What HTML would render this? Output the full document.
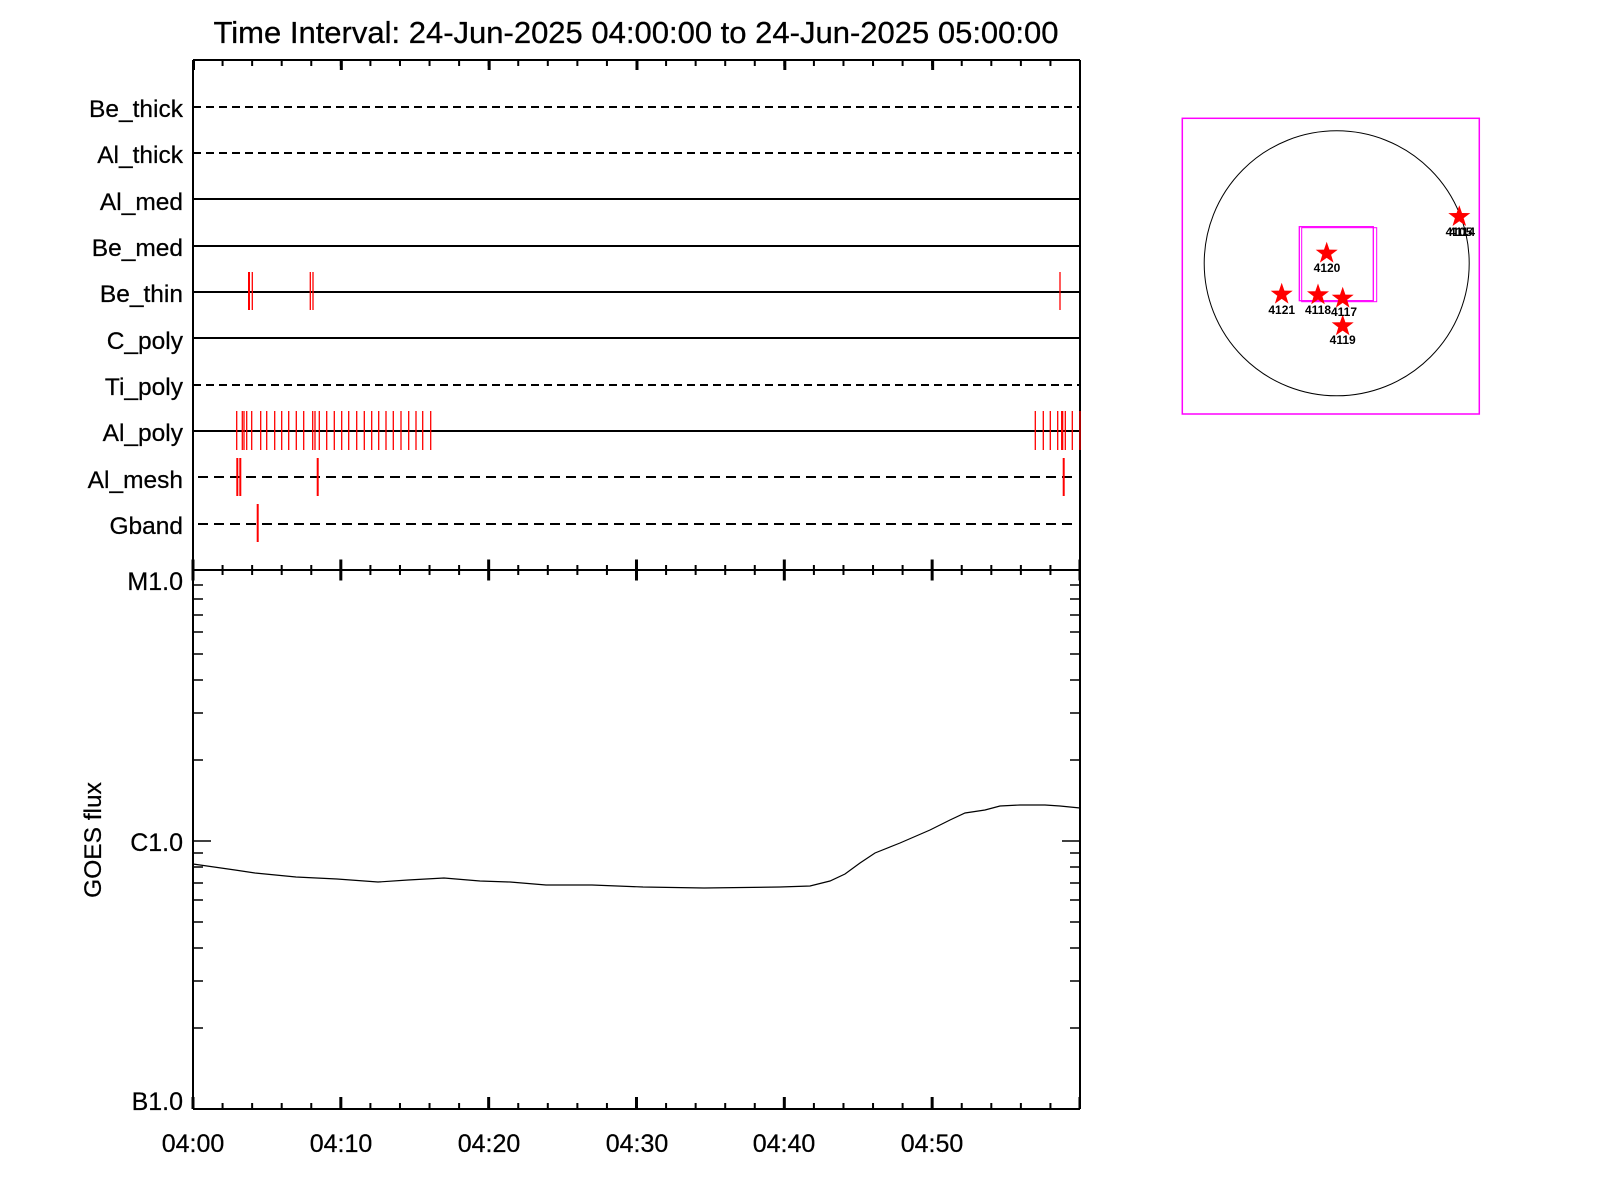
<!DOCTYPE html>
<html><head><meta charset="utf-8"><style>html,body{margin:0;padding:0;background:#fff}svg{display:block}</style></head>
<body>
<svg width="1600" height="1200" viewBox="0 0 1600 1200" xmlns="http://www.w3.org/2000/svg" font-family="Liberation Sans, Arial, sans-serif">
<rect width="1600" height="1200" fill="#fff"/>
<text x="636" y="43" font-size="31" text-anchor="middle" stroke="#000" stroke-width="0.3">Time Interval: 24-Jun-2025 04:00:00 to 24-Jun-2025 05:00:00</text>

<g stroke="#000" stroke-width="2" fill="none">
<line x1="193" y1="60" x2="1080" y2="60"/>
<line x1="193" y1="60" x2="193" y2="1109"/>
<line x1="1080" y1="60" x2="1080" y2="1109"/>
<line x1="193" y1="570" x2="1080" y2="570"/>
<line x1="193" y1="1109" x2="1080" y2="1109"/>
</g>
<g stroke="#000" fill="none">
<line x1="192" y1="63" x2="1081" y2="63" stroke-width="6" stroke-dasharray="2 27.567"/>
<line x1="192" y1="65" x2="1081" y2="65" stroke-width="10" stroke-dasharray="3 144.83"/>
<line x1="192" y1="570" x2="1081" y2="570" stroke-width="10" stroke-dasharray="2 27.567"/>
<line x1="191.5" y1="570" x2="1081" y2="570" stroke-width="21" stroke-dasharray="3 144.83"/>
<line x1="192" y1="1106" x2="1081" y2="1106" stroke-width="6" stroke-dasharray="2 27.567"/>
<line x1="191.5" y1="1103" x2="1081" y2="1103" stroke-width="12" stroke-dasharray="3 144.83"/>
</g>

<g font-size="24.5" text-anchor="end" stroke="#000" stroke-width="0.25">
<text x="183" y="117">Be_thick</text>
<text x="183" y="163">Al_thick</text>
<text x="183" y="210">Al_med</text>
<text x="183" y="256">Be_med</text>
<text x="183" y="302">Be_thin</text>
<text x="183" y="349">C_poly</text>
<text x="183" y="395">Ti_poly</text>
<text x="183" y="441">Al_poly</text>
<text x="183" y="488">Al_mesh</text>
<text x="183" y="534">Gband</text>
</g>
<g stroke="#000" stroke-width="2" fill="none">
<line x1="193" y1="107" x2="1080" y2="107" stroke-dasharray="8 5"/>
<line x1="193" y1="153" x2="1080" y2="153" stroke-dasharray="8 5"/>
<line x1="193" y1="199" x2="1080" y2="199"/>
<line x1="193" y1="246" x2="1080" y2="246"/>
<line x1="193" y1="292" x2="1080" y2="292"/>
<line x1="193" y1="338" x2="1080" y2="338"/>
<line x1="193" y1="385" x2="1080" y2="385" stroke-dasharray="8 5"/>
<line x1="193" y1="431" x2="1080" y2="431"/>
<line x1="198" y1="477" x2="1076" y2="477" stroke-dasharray="10 6"/>
<line x1="198" y1="524" x2="1076" y2="524" stroke-dasharray="10 6"/>
</g>
<g stroke="#f00" fill="none">
<g stroke-width="2"><line x1="249" y1="272" x2="249" y2="310"/></g>
<g stroke-width="1.3">
<line x1="252.3" y1="272" x2="252.3" y2="310"/>
<line x1="310.3" y1="272" x2="310.3" y2="310"/>
<line x1="313" y1="272" x2="313" y2="310"/>
<line x1="1060" y1="272" x2="1060" y2="310"/>
</g>
<g stroke-width="1.3">
<path d="M236.7 411V450M242.3 411V450M244 411V450M246.7 411V450M251.7 411V450M260.7 411V450M266.7 411V450M274.7 411V450M281.7 411V450M288.7 411V450M296.3 411V450M303.7 411V450M312.7 411V450M315 411V450M319.3 411V450M326.7 411V450M334.3 411V450M341.7 411V450M348.7 411V450M356.7 411V450M364.3 411V450M371.7 411V450M378.7 411V450M386 411V450M393.3 411V450M401 411V450M408.7 411V450M416 411V450M422.7 411V450M430.7 411V450"/>
<path d="M1035.3 411V450M1043.3 411V450M1050.3 411V450M1057.7 411V450M1061.7 411V450M1062.7 411V450M1065.3 411V450M1072.3 411V450M1080 411V450"/>
</g>
<g stroke-width="2">
<path d="M237.3 458V496M240.3 458V496M317.7 458V496M1063.7 458V496M257.7 504V542"/>
</g>
</g>

<g stroke="#000" stroke-width="1.5">
<path d="M193 841H211M1080 841H1062"/>
<path d="M193 1028H203M193 981H203M193 948H203M193 922H203M193 900H203M193 883H203M193 867H203M193 853H203
M193 760H203M193 713H203M193 680H203M193 654H203M193 632H203M193 615H203M193 599H203M193 585H203"/>
<path d="M1080 1028H1070M1080 981H1070M1080 948H1070M1080 922H1070M1080 900H1070M1080 883H1070M1080 867H1070M1080 853H1070
M1080 760H1070M1080 713H1070M1080 680H1070M1080 654H1070M1080 632H1070M1080 615H1070M1080 599H1070M1080 585H1070"/>
</g>
<g font-size="25" text-anchor="end" stroke="#000" stroke-width="0.25">
<text x="183" y="590">M1.0</text>
<text x="183" y="851">C1.0</text>
<text x="183" y="1110">B1.0</text>
</g>
<text transform="translate(101,840) rotate(-90)" font-size="24.5" text-anchor="middle" stroke="#000" stroke-width="0.25">GOES flux</text>
<g font-size="25" text-anchor="middle" stroke="#000" stroke-width="0.25">
<text x="193" y="1152">04:00</text>
<text x="341" y="1152">04:10</text>
<text x="489" y="1152">04:20</text>
<text x="637" y="1152">04:30</text>
<text x="784" y="1152">04:40</text>
<text x="932" y="1152">04:50</text>
</g>
<path fill="none" stroke="#000" stroke-width="1.2" d="M193 864L235 870L255 873L296 877L337 879L378 882L408 880L444 878L480 881L510 882L546 885L592 885L643 887L704 888L780 887L810 886L830 881L845 874L860 863L875 853L900 843L930 830L950 820L965 813L985 810L1000 806L1020 805L1045 805L1060 806L1080 808"/>

<rect x="1182.3" y="118.3" width="297" height="295.7" fill="none" stroke="#f0f" stroke-width="1.5"/>
<circle cx="1336.7" cy="263.3" r="132.5" fill="none" stroke="#000" stroke-width="1"/>
<rect x="1299.3" y="226.7" width="74" height="74" fill="none" stroke="#f0f" stroke-width="1.3"/>
<rect x="1301.7" y="227.7" width="75" height="74" fill="none" stroke="#f0f" stroke-width="1"/>
<defs><polygon id="st" points="0,-11.5 2.7,-3.7 11,-3.6 4.4,1.4 6.8,9.3 0,4.6 -6.8,9.3 -4.4,1.4 -11,-3.6 -2.7,-3.7" fill="#f00"/></defs>
<use href="#st" x="1326.7" y="253.3"/>
<use href="#st" x="1281.7" y="294.3"/>
<use href="#st" x="1318" y="295"/>
<use href="#st" x="1342.7" y="298.3"/>
<use href="#st" x="1342.7" y="326"/>
<use href="#st" x="1459.3" y="216.7"/>
<g font-size="12" font-weight="bold" text-anchor="middle">
<text x="1327" y="272">4120</text>
<text x="1281.7" y="314">4121</text>
<text x="1318" y="314">4118</text>
<text x="1344" y="316">4117</text>
<text x="1342.7" y="344">4119</text>
<text x="1459" y="236">4105</text>
<text x="1462" y="236">4114</text>
</g>
</svg>
</body></html>
